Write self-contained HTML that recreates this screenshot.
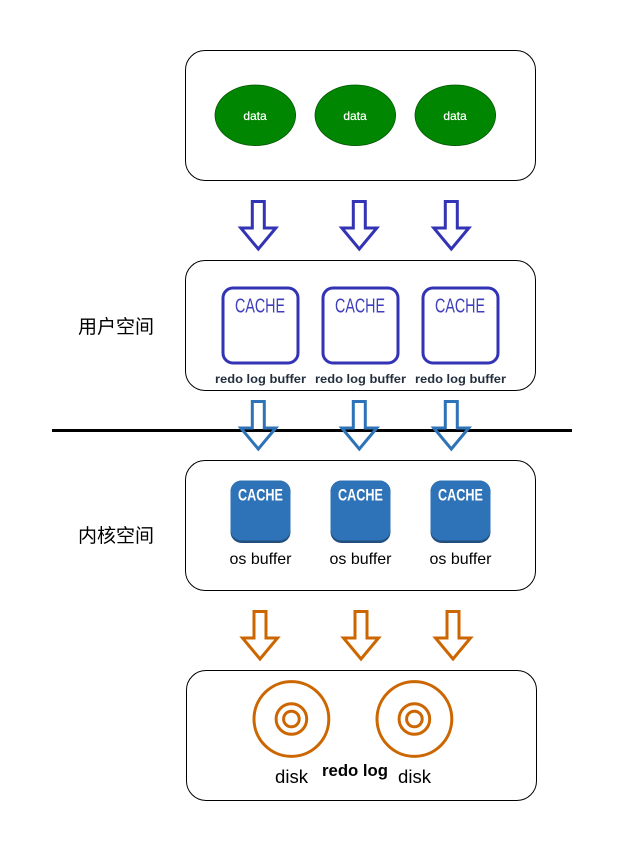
<!DOCTYPE html>
<html>
<head>
<meta charset="utf-8">
<style>
html,body{margin:0;padding:0;background:#fff;width:624px;height:851px;overflow:hidden}
svg{display:block}
text{font-family:"Liberation Sans","Noto Sans CJK SC",sans-serif}
</style>
</head>
<body>
<svg width="624" height="851" viewBox="0 0 624 851" xmlns="http://www.w3.org/2000/svg">
<g fill="#fff" stroke="#000" stroke-width="1">
<rect x="185.5" y="50.5" width="350" height="130" rx="19.5"/>
<rect x="185.5" y="260.5" width="350" height="130" rx="19.5"/>
<rect x="185.5" y="460.5" width="350" height="130" rx="19.5"/>
<rect x="186.5" y="670.5" width="350" height="130" rx="19.5"/>
</g>
<g fill="#008600" stroke="#005700" stroke-width="0.8">
<ellipse cx="255.300" cy="115.300" rx="40.300" ry="30.300"/>
<ellipse cx="355.300" cy="115.300" rx="40.300" ry="30.300"/>
<ellipse cx="455.300" cy="115.300" rx="40.300" ry="30.300"/>
</g>
<g fill="#fff" font-size="12" text-anchor="middle" stroke="#fff" stroke-width="0.2">
<text x="255" y="120">data</text>
<text x="355" y="120">data</text>
<text x="455" y="120">data</text>
</g>
<g fill="#fff" stroke="#3333b5" stroke-width="3">
<path d="M252.300 201.500H264.300V228H275.800L258.300 249L240.800 228H252.300Z"/>
<path d="M353.300 201.500H365.300V228H376.800L359.300 249L341.800 228H353.300Z"/>
<path d="M445.300 201.500H457.300V228H468.800L451.300 249L433.800 228H445.300Z"/>
</g>
<g fill="#fff" stroke="#3333b5" stroke-width="3">
<rect x="223" y="288" width="75" height="75" rx="10"/>
<rect x="323" y="288" width="75" height="75" rx="10"/>
<rect x="423" y="288" width="75" height="75" rx="10"/>
</g>
<g fill="#3f3fbd" font-size="20">
<text x="235" y="312.500" textLength="50" lengthAdjust="spacingAndGlyphs">CACHE</text>
<text x="335" y="312.500" textLength="50" lengthAdjust="spacingAndGlyphs">CACHE</text>
<text x="435" y="312.500" textLength="50" lengthAdjust="spacingAndGlyphs">CACHE</text>
</g>
<g fill="#232f3e" font-size="11.500" font-weight="bold">
<text x="215" y="383" textLength="91" lengthAdjust="spacingAndGlyphs">redo log buffer</text>
<text x="315" y="383" textLength="91" lengthAdjust="spacingAndGlyphs">redo log buffer</text>
<text x="415" y="383" textLength="91" lengthAdjust="spacingAndGlyphs">redo log buffer</text>
</g>
<rect x="52" y="429" width="520" height="3" fill="#000"/>
<g fill="none" stroke="#2e73b8" stroke-width="3">
<path d="M252.300 401.500H264.300V428H275.800L258.300 449L240.800 428H252.300Z"/>
<path d="M353.300 401.500H365.300V428H376.800L359.300 449L341.800 428H353.300Z"/>
<path d="M445.300 401.500H457.300V428H468.800L451.300 449L433.800 428H445.300Z"/>
</g>
<g>
<rect x="230.500" y="480.500" width="60" height="62.500" rx="11" fill="#234f7f"/>
<rect x="330.500" y="480.500" width="60" height="62.500" rx="11" fill="#234f7f"/>
<rect x="430.500" y="480.500" width="60" height="62.500" rx="11" fill="#234f7f"/>
<rect x="230.500" y="480.500" width="60" height="60" rx="11" fill="#2e73b8"/>
<rect x="330.500" y="480.500" width="60" height="60" rx="11" fill="#2e73b8"/>
<rect x="430.500" y="480.500" width="60" height="60" rx="11" fill="#2e73b8"/>
</g>
<g fill="#fff" font-size="17" font-weight="bold">
<text x="238" y="500.500" textLength="45" lengthAdjust="spacingAndGlyphs">CACHE</text>
<text x="338" y="500.500" textLength="45" lengthAdjust="spacingAndGlyphs">CACHE</text>
<text x="438" y="500.500" textLength="45" lengthAdjust="spacingAndGlyphs">CACHE</text>
</g>
<g fill="#000" font-size="16" text-anchor="middle">
<text x="260.500" y="564">os buffer</text>
<text x="360.500" y="564">os buffer</text>
<text x="460.500" y="564">os buffer</text>
</g>
<g fill="#fff" stroke="#cc6600" stroke-width="3">
<path d="M254 611.500H266V638H277.500L260 659L242.500 638H254Z"/>
<path d="M355 611.500H367V638H378.500L361 659L343.500 638H355Z"/>
<path d="M447 611.500H459V638H470.500L453 659L435.500 638H447Z"/>
</g>
<g fill="none" stroke="#cc6600" stroke-width="3">
<circle cx="291.400" cy="719" r="37.400"/>
<circle cx="291.400" cy="719" r="15.300"/>
<circle cx="291.400" cy="719" r="7.800"/>
<circle cx="414.400" cy="719" r="37.400"/>
<circle cx="414.400" cy="719" r="15.300"/>
<circle cx="414.400" cy="719" r="7.800"/>
</g>
<g fill="#000" font-size="18">
<text x="275" y="783" textLength="33" lengthAdjust="spacingAndGlyphs">disk</text>
<text x="398" y="783" textLength="33" lengthAdjust="spacingAndGlyphs">disk</text>
</g>
<text x="322" y="776" fill="#000" font-size="16.500" font-weight="bold" textLength="66" lengthAdjust="spacingAndGlyphs">redo log</text>
<g fill="#000" font-size="19">
<text x="78" y="333">用户空间</text>
<text x="78" y="542">内核空间</text>
</g>
</svg>
</body>
</html>
